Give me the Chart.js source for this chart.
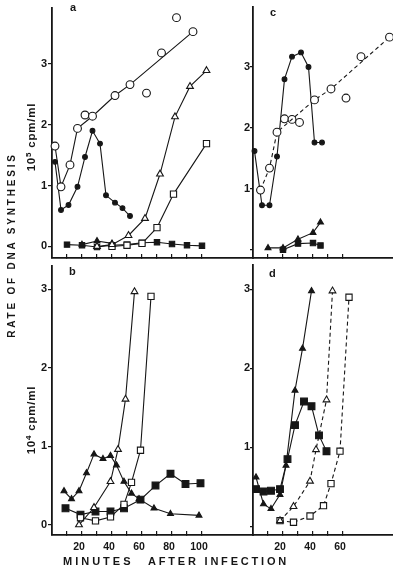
<!DOCTYPE html>
<html>
<head>
<meta charset="utf-8">
<script src="https://cdn.jsdelivr.net/npm/chart.js@4.4.1/dist/chart.umd.min.js"></script>
<style>
  html, body { margin: 0; padding: 0; background: #fff; }
  #wrap { position: relative; width: 393px; height: 569px; overflow: hidden;
          font-family: "Liberation Sans", Arial, sans-serif; color: #161616; }
  canvas { position: absolute; }
  .lbl { position: absolute; font-weight: bold; white-space: nowrap; line-height: 1; }
  .rot { transform: translate(-50%, -50%) rotate(-90deg); }
  .sup { font-size: 8px; position: relative; top: -4px; }
</style>
</head>
<body>
<div id="wrap">
  <canvas id="ca" width="254" height="270" style="left:0px;top:0px"></canvas>
  <canvas id="cb" width="254" height="311" style="left:0px;top:258px"></canvas>
  <canvas id="cc" width="192" height="270" style="left:201px;top:0px"></canvas>
  <canvas id="cd" width="192" height="311" style="left:201px;top:258px"></canvas>

  <div class="lbl rot" style="left:12px;top:245px;font-size:10px;letter-spacing:2.8px">RATE OF DNA SYNTHESIS</div>
  <div class="lbl rot" style="left:32px;top:137px;font-size:11.5px;letter-spacing:0.8px">10<span class="sup">5</span> cpm/ml</div>
  <div class="lbl rot" style="left:32px;top:420px;font-size:11.5px;letter-spacing:0.8px">10<span class="sup">4</span> cpm/ml</div>
  <div class="lbl" style="left:63px;top:556px;font-size:11px;letter-spacing:3px">MINUTES</div>
  <div class="lbl" style="left:148px;top:556px;font-size:11px;letter-spacing:2.8px">AFTER INFECTION</div>
  <div class="lbl" style="left:70px;top:2px;font-size:11px">a</div>
  <div class="lbl" style="left:69px;top:266px;font-size:11px">b</div>
  <div class="lbl" style="left:270px;top:7px;font-size:11px">c</div>
  <div class="lbl" style="left:269px;top:268px;font-size:11px">d</div>
</div>

<script>
// panel a  (10^5 cpm/ml)
const aCircT = [2, 6, 12, 17, 27, 42, 52, 94];
const aCircV = [1.65, 0.98, 1.34, 1.94, 2.14, 2.48, 2.66, 3.53];
const aCircLooseT = [22, 63, 73, 83];
const aCircLooseV = [2.16, 2.52, 3.18, 3.76];
const aDotT = [2, 6, 11, 17, 22, 27, 32, 36, 42, 47, 52];
const aDotV = [1.39, 0.60, 0.68, 0.98, 1.47, 1.90, 1.69, 0.84, 0.72, 0.63, 0.50];
const aOpenTriT = [30, 40, 51, 62, 72, 82, 92, 103];
const aOpenTriV = [0.0, 0.03, 0.18, 0.46, 1.19, 2.13, 2.63, 2.89];
const aOpenSqT = [40, 50, 60, 70, 81, 103];
const aOpenSqV = [0.0, 0.02, 0.05, 0.31, 0.86, 1.69];
const aSqT = [10, 20, 30, 40, 50, 60, 70, 80, 90, 100];
const aSqV = [0.03, 0.02, -0.01, 0.02, 0.03, 0.06, 0.07, 0.04, 0.02, 0.01];
const aTriT = [20, 30, 40];
const aTriV = [0.03, 0.09, 0.05];

// panel b  (10^4 cpm/ml)
const bTriT = [8, 13, 18, 23, 28, 34, 39, 43, 48, 53, 58, 68, 79, 98];
const bTriV = [0.43, 0.33, 0.43, 0.66, 0.90, 0.84, 0.88, 0.76, 0.55, 0.40, 0.33, 0.21, 0.14, 0.12];
const bSqT = [9, 19, 29, 39, 48, 59, 69, 79, 89, 99];
const bSqV = [0.21, 0.13, 0.17, 0.17, 0.21, 0.32, 0.50, 0.65, 0.52, 0.53];
const bOpenTriT = [18, 28, 39, 44, 49, 55];
const bOpenTriV = [0.0, 0.22, 0.55, 0.96, 1.60, 2.97];
const bOpenSqT = [19, 29, 39, 48, 53, 59, 66];
const bOpenSqV = [0.09, 0.05, 0.10, 0.26, 0.54, 0.95, 2.91];

// panel c
const cCircT = [5, 11, 16, 41, 52, 91];
const cCircV = [0.98, 1.34, 1.93, 2.46, 2.64, 3.49];
const cCircLooseT = [21, 26, 31, 62, 72];
const cCircLooseV = [2.15, 2.14, 2.09, 2.49, 3.17];
const cDotT = [1, 6, 11, 16, 21, 26, 32, 37, 41, 46];
const cDotV = [1.62, 0.73, 0.73, 1.53, 2.80, 3.17, 3.24, 3.00, 1.76, 1.76];
const cTriT = [10, 20, 30, 40, 45];
const cTriV = [0.03, 0.03, 0.17, 0.28, 0.45];
const cSqT = [20, 30, 40, 45];
const cSqV = [0.0, 0.10, 0.11, 0.07];

// panel d
const dTriT = [2, 7, 12, 18, 22, 28, 33, 39];
const dTriV = [0.62, 0.28, 0.22, 0.40, 0.77, 1.72, 2.25, 2.98];
const dSqT = [2, 7, 12, 18, 23, 28, 34, 39, 44, 49];
const dSqV = [0.47, 0.44, 0.45, 0.47, 0.85, 1.28, 1.58, 1.52, 1.15, 0.95];
const dOpenTriT = [18, 27, 38, 42, 49, 53];
const dOpenTriV = [0.07, 0.25, 0.57, 0.97, 1.60, 2.98];
const dOpenSqT = [18, 27, 38, 47, 52, 58, 64];
const dOpenSqV = [0.07, 0.05, 0.13, 0.26, 0.54, 0.95, 2.90];

// axes
const leftTicks = [10, 20, 30, 40, 50, 60, 70, 80, 90, 100];
const leftLabels = [20, 40, 60, 80, 100];
const rightTicks = [10, 20, 30, 40, 50, 60];
const rightLabels = [20, 40, 60];
const yTicks = [0, 1, 2, 3];

const INK = '#161616';

const marks = {
  circle:   { pointStyle: 'circle',   pointRadius: 3.9, fill: '#fff' },
  dot:      { pointStyle: 'circle',   pointRadius: 2.4, fill: INK },
  openTri:  { pointStyle: 'triangle', pointRadius: 3.9, fill: '#fff' },
  tri:      { pointStyle: 'triangle', pointRadius: 3.4, fill: INK },
  openSq:   { pointStyle: 'rect',     pointRadius: 4.4, fill: '#fff' },
  sq:       { pointStyle: 'rect',     pointRadius: 4.8, fill: INK },
  smallSq:  { pointStyle: 'rect',     pointRadius: 3.8, fill: INK }
};

function serie(t, v, mark, opts) {
  const m = marks[mark];
  opts = opts || {};
  return {
    data: t.map((x, i) => ({ x: x, y: v[i] })),
    showLine: opts.line !== false,
    borderColor: INK,
    borderWidth: 1.1,
    borderDash: opts.dash ? [4, 3] : [],
    pointStyle: m.pointStyle,
    pointRadius: m.pointRadius,
    pointHoverRadius: m.pointRadius,
    pointBackgroundColor: m.fill,
    pointBorderColor: INK,
    pointBorderWidth: 1.1,
    tension: 0,
    clip: false
  };
}

function panel(id, datasets, o) {
  new Chart(document.getElementById(id), {
    type: 'line',
    data: { datasets: datasets },
    options: {
      responsive: false,
      animation: false,
      events: [],
      layout: { padding: 0, autoPadding: false },
      plugins: { legend: { display: false }, tooltip: { enabled: false } },
      scales: {
        x: {
          type: 'linear',
          min: 0,
          max: o.xMax,
          afterBuildTicks: s => { s.ticks = o.xTicks.map(v => ({ value: v })); },
          afterFit: s => { s.height = o.xH; },
          border: { color: INK, width: 1.8 },
          grid: { drawOnChartArea: false, drawTicks: true, tickLength: -4, color: INK, lineWidth: 1.2 },
          ticks: {
            autoSkip: false, maxRotation: 0, padding: 10, labelOffset: -3, color: INK,
            font: { family: '"Liberation Sans", Arial, sans-serif', size: 10.5, weight: 'bold' },
            callback: v => o.xLabels.includes(v) ? String(v) : ''
          }
        },
        y: {
          type: 'linear',
          min: o.yMin,
          max: o.yMax,
          afterBuildTicks: s => { s.ticks = yTicks.map(v => ({ value: v })); },
          afterFit: s => { s.width = 52; },
          border: { color: INK, width: 1.8 },
          grid: { drawOnChartArea: false, drawTicks: true, tickLength: o.yTick, color: INK, lineWidth: 1.2 },
          ticks: {
            autoSkip: false, padding: o.yPad, color: INK,
            font: { family: '"Liberation Sans", Arial, sans-serif', size: 11, weight: 'bold' },
            callback: v => (o.noZero && v === 0) ? '' : String(v)
          }
        }
      }
    }
  });
}

panel('ca', [
  serie(aCircT, aCircV, 'circle'),
  serie(aCircLooseT, aCircLooseV, 'circle', { line: false }),
  serie(aDotT, aDotV, 'dot'),
  serie(aOpenTriT, aOpenTriV, 'openTri'),
  serie(aOpenSqT, aOpenSqV, 'openSq'),
  serie(aTriT, aTriV, 'tri'),
  serie(aSqT, aSqV, 'smallSq')
], { xMax: 134.67, xTicks: leftTicks, xLabels: [], xH: 12, yMin: -0.19, yMax: 3.925, yTick: 4, yPad: 1 });

panel('cb', [
  serie(bOpenTriT, bOpenTriV, 'openTri'),
  serie(bOpenSqT, bOpenSqV, 'openSq'),
  serie(bTriT, bTriV, 'tri'),
  serie(bSqT, bSqV, 'sq')
], { xMax: 134.67, xTicks: leftTicks, xLabels: leftLabels, xH: 34, yMin: -0.13, yMax: 3.302, yTick: 4, yPad: 1 });

panel('cc', [
  serie(cCircT, cCircV, 'circle', { dash: true }),
  serie(cCircLooseT, cCircLooseV, 'circle', { line: false }),
  serie(cDotT, cDotV, 'dot'),
  serie(cTriT, cTriV, 'tri'),
  serie(cSqT, cSqV, 'smallSq')
], { xMax: 93.33, xTicks: rightTicks, xLabels: [], xH: 12, yMin: -0.136, yMax: 3.992, yTick: 3, yPad: 0, noZero: true });

panel('cd', [
  serie(dOpenTriT, dOpenTriV, 'openTri', { dash: true }),
  serie(dOpenSqT, dOpenSqV, 'openSq', { dash: true }),
  serie(dTriT, dTriV, 'tri'),
  serie(dSqT, dSqV, 'sq')
], { xMax: 93.33, xTicks: rightTicks, xLabels: rightLabels, xH: 34, yMin: -0.111, yMax: 3.313, yTick: 3, yPad: 0, noZero: true });
</script>
</body>
</html>
